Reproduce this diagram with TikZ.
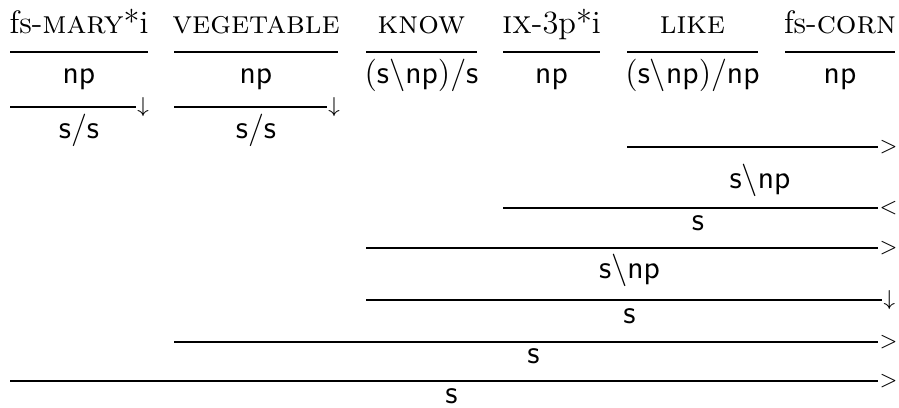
\documentclass[tikz,border=0pt,12pt]{standalone}
\begin{document}
\begin{tikzpicture}[
  x=0.37pt, y=-0.37pt,
  every node/.style={inner sep=0pt},
  word/.style={anchor=base},
  cat/.style={anchor=base},
  rule/.style={line width=0.5pt},
  rulesym/.style={anchor=west, font=\scriptsize, inner sep=0.3pt},
]
\useasboundingbox (0,0) rectangle (899,407);
\def\ya{52}   % lexical rules
\def\yb{107}  % type raising
\def\xe{878}  % right end of combination rules

% ── words ──────────────────
\node[word] (w1) at (79,33)    {fs-\textsc{mary}*i};
\node[word] (w2) at (256,33)   {\textsc{vegetable}};
\node[word] (w3) at (421.5,33) {\textsc{know}};
\node[word] (w4) at (551.5,33) {\textsc{ix}-3p*i};
\node[word] (w5) at (692.5,33) {\textsc{like}};
\node[word] (w6) at (840,33)   {fs-\textsc{corn}};

% ── lexical categories ────────────
\draw[rule] (10,\ya) -- (148,\ya);
\draw[rule] (174,\ya) -- (338,\ya);
\draw[rule] (366,\ya) -- (477,\ya);
\draw[rule] (503,\ya) -- (600,\ya);
\draw[rule] (627,\ya) -- (758,\ya);
\draw[rule] (785,\ya) -- (895,\ya);
\node[cat] (c1) at (79,83)    {$\mathsf{np}$};
\node[cat] (c2) at (256,83)   {$\mathsf{np}$};
\node[cat] (c3) at (421.5,83) {$(\mathsf{s}\backslash\mathsf{np})/\mathsf{s}$};
\node[cat] (c4) at (551.5,83) {$\mathsf{np}$};
\node[cat] (c5) at (692.5,83) {$(\mathsf{s}\backslash\mathsf{np})/\mathsf{np}$};
\node[cat] (c6) at (840,83)   {$\mathsf{np}$};

% ── type raising ────────────
\draw[rule] (10,\yb) -- (136,\yb) node[rulesym] {$\downarrow$};
\draw[rule] (174,\yb) -- (327,\yb) node[rulesym] {$\downarrow$};
\node[cat] (t1) at (79,138)  {$\mathsf{s}/\mathsf{s}$};
\node[cat] (t2) at (256,138) {$\mathsf{s}/\mathsf{s}$};

% ── combinations ──────────────────────────
\draw[rule] (627,147) -- (\xe,147) node[rulesym] {$>$};
\node[cat] (d1) at (760,188) {$\mathsf{s}\backslash\mathsf{np}$};
\draw[rule] (503,208) -- (\xe,208) node[rulesym] {$<$};
\node[cat] (d2) at (698,230) {$\mathsf{s}$};
\draw[rule] (366,248) -- (\xe,248) node[rulesym] {$>$};
\node[cat] (d3) at (629.5,278) {$\mathsf{s}\backslash\mathsf{np}$};
\draw[rule] (366,300) -- (882,300) node[rulesym] {$\downarrow$};
\node[cat] (d4) at (629.5,323) {$\mathsf{s}$};
\draw[rule] (174,342) -- (\xe,342) node[rulesym] {$>$};
\node[cat] (d5) at (533.5,363) {$\mathsf{s}$};
\draw[rule] (10,381) -- (\xe,381) node[rulesym] {$>$};
\node[cat] (d6) at (451.5,403) {$\mathsf{s}$};

\end{tikzpicture}
\end{document}
